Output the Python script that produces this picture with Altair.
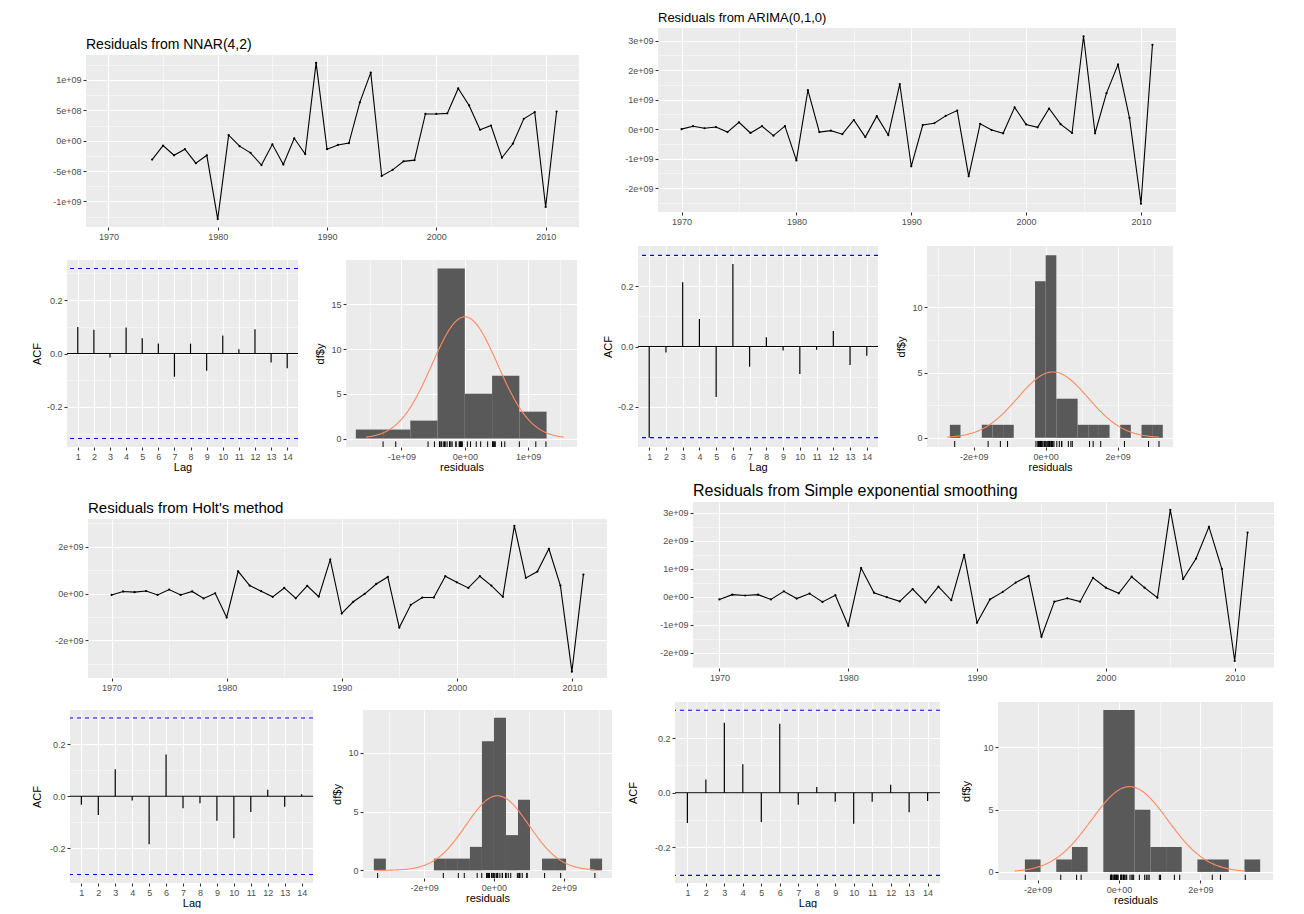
import altair as alt
import pandas as pd

UNIT = 1e9  # residual values below are read in units of 1e9
FONT = "Liberation Sans"

YEARS = list(range(1970, 2012))
NNAR_YEARS = list(range(1974, 2012))
LAGS = list(range(1, 15))

NNAR_RES = [-0.31, -0.08, -0.24, -0.14, -0.37, -0.24, -1.29, 0.09, -0.09, -0.20,
            -0.40, -0.06, -0.39, 0.04, -0.22, 1.28, -0.14, -0.07, -0.04, 0.63,
            1.12, -0.58, -0.48, -0.34, -0.32, 0.44, 0.44, 0.45, 0.86, 0.58,
            0.18, 0.25, -0.28, -0.05, 0.36, 0.47, -1.09, 0.48]
ARIMA_RES = [0.00, 0.10, 0.03, 0.07, -0.10, 0.23, -0.13, 0.10, -0.22, 0.10,
             -1.06, 1.32, -0.10, -0.05, -0.17, 0.31, -0.27, 0.44, -0.20, 1.53,
             -1.26, 0.14, 0.20, 0.45, 0.63, -1.60, 0.18, -0.03, -0.14, 0.74,
             0.16, 0.06, 0.70, 0.17, -0.13, 3.15, -0.14, 1.22, 2.19, 0.38,
             -2.53, 2.86]
HOLT_RES = [-0.06, 0.09, 0.06, 0.11, -0.06, 0.17, -0.06, 0.09, -0.21, 0.01,
            -1.02, 0.95, 0.34, 0.10, -0.14, 0.24, -0.20, 0.33, -0.13, 1.45,
            -0.85, -0.35, -0.01, 0.41, 0.71, -1.45, -0.48, -0.17, -0.17, 0.74,
            0.48, 0.24, 0.74, 0.34, -0.14, 2.89, 0.67, 0.94, 1.91, 0.34,
            -3.33, 0.81]
SES_RES = [-0.10, 0.07, 0.04, 0.07, -0.10, 0.19, -0.07, 0.11, -0.19, 0.05,
           -1.04, 1.02, 0.14, -0.02, -0.17, 0.27, -0.21, 0.36, -0.13, 1.49,
           -0.93, -0.10, 0.17, 0.50, 0.74, -1.43, -0.18, -0.06, -0.18, 0.67,
           0.32, 0.12, 0.71, 0.32, -0.04, 3.10, 0.63, 1.36, 2.49, 0.99,
           -2.30, 2.29]

NNAR_ACF = [0.099, 0.089, -0.015, 0.097, 0.057, 0.037, -0.087, 0.037, -0.065, 0.067, 0.016, 0.091, -0.034, -0.055]
ARIMA_ACF = [-0.302, -0.020, 0.213, 0.091, -0.167, 0.273, -0.067, 0.031, -0.013, -0.091, -0.011, 0.051, -0.061, -0.031]
HOLT_ACF = [-0.033, -0.072, 0.104, -0.016, -0.185, 0.161, -0.046, -0.027, -0.095, -0.162, -0.061, 0.025, -0.041, 0.008]
SES_ACF = [-0.111, 0.049, 0.256, 0.104, -0.107, 0.252, -0.044, 0.021, -0.033, -0.113, -0.033, 0.029, -0.071, -0.030]
NNAR_CI = 0.318
OTHER_CI = 0.302

# histogram: bin width (1e9), index of first bin, counts per bin
NNAR_BW, NNAR_K0 = 0.43, -4
NNAR_COUNTS = [1, 1, 2, 19, 5, 7, 3]
ARIMA_BW, ARIMA_K0 = 0.296, -9
ARIMA_COUNTS = [1, 0, 0, 1, 1, 1, 0, 0, 12, 14, 3, 3, 1, 1, 1, 0, 1, 0, 1, 1]
HOLT_BW, HOLT_K0 = 0.344, -10
HOLT_COUNTS = [1, 0, 0, 0, 0, 1, 1, 1, 2, 11, 13, 3, 6, 0, 1, 1, 0, 0, 1]
SES_BW, SES_K0 = 0.385, -6
SES_COUNTS = [1, 0, 1, 2, 0, 13, 13, 5, 2, 2, 0, 1, 1, 0, 1]

# normal curve: mean, sd (1e9), peak height
NNAR_NORM = (0.0, 0.52, 13.6)
ARIMA_NORM = (0.2, 0.98, 5.05)
HOLT_NORM = (0.1, 0.9, 6.35)
SES_NORM = (0.26, 0.94, 6.85)

TS_XDOM = [1967.95, 2013.05]
YEAR_MAJ = [1970, 1980, 1990, 2000, 2010]
YEAR_MIN = [1975, 1985, 1995, 2005]
ACF_XDOM = [0.33, 14.67]
ACF_MAJ = [-0.2, 0.0, 0.2]
ACF_MIN = [-0.3, -0.1, 0.1, 0.3]


def in_list(vals):
    return "indexof([" + ",".join(repr(float(v)) for v in vals) + "], datum.value) >= 0"


def make_axis(majors, minors, kind, **kw):
    test = in_list(majors)
    if kind == "sci":
        lab = ("(datum.value == 0 ? '0e+00' : (datum.value < 0 ? '-' : '') + "
               "replace(format(abs(datum.value), '.0e'), 'e+', 'e+0'))")
    elif kind == "dec1":
        lab = "(datum.value < 0 ? '-' : '') + format(abs(datum.value), '.1f')"
    else:
        lab = "format(datum.value, 'd')"
    return alt.Axis(values=sorted(majors + minors), labelExpr=f"{test} ? {lab} : ''",
                    gridWidth={"condition": {"test": test, "value": 1.1}, "value": 0.5},
                    tickOpacity={"condition": {"test": test, "value": 1}, "value": 0},
                    **kw)


def spacer(w, h):
    # empty cell used only to offset panels inside the concatenated layout
    return alt.Chart(pd.DataFrame({"s": [0]})).mark_point(size=0, opacity=0).encode(
        x=alt.value(0), y=alt.value(0)
    ).properties(width=w, height=h,
                 view=alt.ViewBackground(fill="white", fillOpacity=0, strokeWidth=0))


def ts_panel(title, tsize, years, res, ydom, ymaj, ymin, w, h):
    df = pd.DataFrame({"year": years, "res": [v * UNIT for v in res]})
    x = alt.X("year:Q", title=None, scale=alt.Scale(domain=TS_XDOM, nice=False, zero=False),
              axis=make_axis(YEAR_MAJ, YEAR_MIN, "int"))
    y = alt.Y("res:Q", title=None,
              scale=alt.Scale(domain=[d * UNIT for d in ydom], nice=False, zero=False),
              axis=make_axis([m * UNIT for m in ymaj], [m * UNIT for m in ymin], "sci"))
    base = alt.Chart(df).encode(x=x, y=y)
    return alt.layer(
        base.mark_line(color="black", strokeWidth=1.1),
        base.mark_circle(color="black", size=5, opacity=1),
    ).properties(width=w, height=h, title=alt.TitleParams(text=title, fontSize=tsize))


def acf_panel(acf, ci, ydom, w, h, yext):
    xs = alt.Scale(domain=ACF_XDOM, nice=False, zero=False)
    ys = alt.Scale(domain=ydom, nice=False, zero=False)
    xax = make_axis(LAGS, [], "int")
    yax = make_axis(ACF_MAJ, ACF_MIN, "dec1", minExtent=yext)

    def X(f):
        return alt.X(f, title="Lag", scale=xs, axis=xax)

    def Y(f):
        return alt.Y(f, title="ACF", scale=ys, axis=yax)

    zero = alt.Chart(pd.DataFrame({"zero": [0.0]})).mark_rule(color="black", strokeWidth=1.1).encode(y=Y("zero:Q"))
    segs = alt.Chart(pd.DataFrame({"lag": LAGS, "acf": acf})).mark_rule(
        color="black", strokeWidth=1.2).encode(x=X("lag:Q"), y=Y("acf:Q"), y2=alt.datum(0))
    cil = alt.Chart(pd.DataFrame({"ci": [ci, -ci]})).mark_rule(
        color="#0000FF", strokeDash=[4, 4], strokeWidth=1.1).encode(y=Y("ci:Q"))
    return alt.layer(zero, segs, cil).properties(width=w, height=h)


def hist_panel(res, bw, k0, counts, norm, xdom, xmaj, xmin, ymaj, ymin, w, h, yext):
    lo = [(k0 + i) * bw * UNIT for i in range(len(counts))]
    hi = [(k0 + i + 1) * bw * UNIT for i in range(len(counts))]
    bars = pd.DataFrame({"lo": lo, "hi": hi, "count": counts})
    bars = bars[bars["count"] > 0]
    ymax = max(counts)
    ydom = [-0.05 * ymax, 1.05 * ymax]
    xs = alt.Scale(domain=[d * UNIT for d in xdom], nice=False, zero=False)
    ys = alt.Scale(domain=ydom, nice=False, zero=False)
    xax = make_axis([m * UNIT for m in xmaj], [m * UNIT for m in xmin], "sci")
    yax = make_axis(ymaj, ymin, "int", minExtent=yext)

    def X(f):
        return alt.X(f, title="residuals", scale=xs, axis=xax)

    def Y(f):
        return alt.Y(f, title="df$y", scale=ys, axis=yax)

    bar_layer = alt.Chart(bars).mark_rect(color="#595959").encode(
        x=X("lo:Q"), x2=alt.X2("hi"), y=Y("count:Q"), y2=alt.datum(0))
    mu, sd, peak = norm
    r = [v * UNIT for v in res]
    cmin = min(min(r), (mu - 3 * sd) * UNIT)
    cmax = max(max(r), (mu + 3 * sd) * UNIT)
    step = (cmax - cmin) / 300
    curve = alt.Chart(alt.sequence(cmin, cmax + step / 2, step, as_="x")).transform_calculate(
        y=f"{peak} * exp(-0.5 * pow((datum.x - {mu * UNIT}) / {sd * UNIT}, 2))"
    ).mark_line(color="#FF8A62", strokeWidth=1.1).encode(x=X("x:Q"), y=Y("y:Q"))
    rug = alt.Chart(pd.DataFrame({"r": r})).mark_rule(color="black", strokeWidth=1).encode(
        x=X("r:Q"), y=alt.datum(ydom[0]), y2=alt.datum(ydom[0] + 0.03 * (ydom[1] - ydom[0])))
    return alt.layer(bar_layer, curve, rug).properties(width=w, height=h)


# ---- group A: NNAR ----
tsA = ts_panel("Residuals from NNAR(4,2)", 14, NNAR_YEARS, NNAR_RES, [-1.42, 1.41],
               [-1, -0.5, 0, 0.5, 1], [-1.25, -0.75, -0.25, 0.25, 0.75, 1.25], 493, 172)
acfA = acf_panel(NNAR_ACF, NNAR_CI, [-0.35, 0.35], 231, 187, 22)
histA = hist_panel(NNAR_RES, NNAR_BW, NNAR_K0, NNAR_COUNTS, NNAR_NORM, [-1.875, 1.77],
                   [-1, 0, 1], [-1.5, -0.5, 0.5, 1.5], [0, 5, 10, 15], [2.5, 7.5, 12.5, 17.5], 231, 187, 18)
A = alt.vconcat(
    alt.vconcat(spacer(1, 10), alt.hconcat(spacer(22, 1), tsA, spacing=0), spacing=0),
    alt.hconcat(spacer(1, 1), alt.hconcat(acfA, histA, spacing=15), spacing=0),
    spacing=19)

# ---- group B: ARIMA ----
tsB = ts_panel("Residuals from ARIMA(0,1,0)", 13, YEARS, ARIMA_RES, [-2.81, 3.43],
               [-2, -1, 0, 1, 2, 3], [-2.5, -1.5, -0.5, 0.5, 1.5, 2.5], 518, 184)
acfB = acf_panel(ARIMA_ACF, OTHER_CI, [-0.333, 0.333], 240, 201, 22)
histB = hist_panel(ARIMA_RES, ARIMA_BW, ARIMA_K0, ARIMA_COUNTS, ARIMA_NORM, [-3.30, 3.54],
                   [-2, 0, 2], [-3, -1, 1, 3], [0, 5, 10], [2.5, 7.5, 12.5], 246, 201, 18)
B = alt.vconcat(
    alt.hconcat(spacer(23, 1), tsB, spacing=0),
    alt.hconcat(spacer(1, 1), alt.hconcat(acfB, histB, spacing=16), spacing=0),
    spacing=20)

# ---- group C: Holt ----
tsC = ts_panel("Residuals from Holt's method", 15, YEARS, HOLT_RES, [-3.6, 3.18],
               [-2, 0, 2], [-3, -1, 1, 3], 519, 159)
acfC = acf_panel(HOLT_ACF, OTHER_CI, [-0.335, 0.333], 243, 173, 25)
histC = hist_panel(HOLT_RES, HOLT_BW, HOLT_K0, HOLT_COUNTS, HOLT_NORM, [-3.75, 3.38],
                   [-2, 0, 2], [-3, -1, 1, 3], [0, 5, 10], [2.5, 7.5, 12.5], 249, 168, 18)
C = alt.vconcat(
    alt.vconcat(spacer(1, 19), alt.hconcat(spacer(24, 1), tsC, spacing=0), spacing=0),
    alt.hconcat(spacer(1, 1), alt.hconcat(acfC, histC, spacing=17), spacing=0),
    spacing=18)

# ---- group D: SES ----
tsD = ts_panel("Residuals from Simple exponential smoothing", 16, YEARS, SES_RES, [-2.55, 3.38],
               [-2, -1, 0, 1, 2, 3], [-2.5, -1.5, -0.5, 0.5, 1.5, 2.5], 581, 166)
acfD = acf_panel(SES_ACF, OTHER_CI, [-0.33, 0.332], 265, 181, 34)
histD = hist_panel(SES_RES, SES_BW, SES_K0, SES_COUNTS, SES_NORM, [-2.97, 3.78],
                   [-2, 0, 2], [-3, -1, 1, 3], [0, 5, 10], [2.5, 7.5, 12.5], 275, 178, 24)
D = alt.vconcat(
    alt.vconcat(spacer(1, 1), alt.hconcat(spacer(33, 1), tsD, spacing=0), spacing=0),
    alt.hconcat(spacer(1, 1), alt.hconcat(acfD, histD, spacing=19), spacing=0),
    spacing=20)

chart = alt.vconcat(
    alt.hconcat(A, B, spacing=22),
    alt.hconcat(C, D, spacing=14),
    spacing=10,
).properties(
    padding={"left": 22, "top": 4, "right": 4, "bottom": 0}
).configure_view(
    fill="#EBEBEB", strokeWidth=0
).configure_axis(
    domain=False, tickColor="#333333", tickSize=3, tickWidth=1.1,
    labelColor="#4D4D4D", labelFont=FONT, labelFontSize=9, labelPadding=2,
    titleFont=FONT, titleFontSize=11, titleFontWeight="normal", titleColor="black",
    titlePadding=3, gridColor="white", labelOverlap=False
).configure_axisX(
    titlePadding=0
).configure_title(
    font=FONT, fontSize=13, fontWeight="normal", color="black",
    anchor="start", frame="group", offset=3
)

chart.save("out.html", embed_options={"renderer": "svg", "actions": False})
